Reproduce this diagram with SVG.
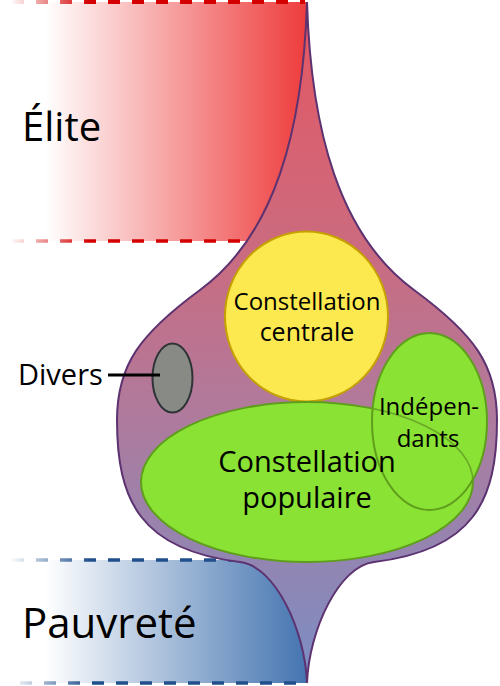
<svg xmlns="http://www.w3.org/2000/svg" xmlns:xlink="http://www.w3.org/1999/xlink" width="500" height="686" viewBox="0 0 500 686">
<style>
text{font-family:"Open Sans","Noto Sans","DejaVu Sans",sans-serif;fill:#000}
.mid{text-anchor:middle}
.gfill{fill:#8ae234}
.gstroke{fill:none;stroke:#5f9e1c;stroke-width:2}
</style>
<defs>
<linearGradient id="eliteBand" gradientUnits="userSpaceOnUse" x1="45" y1="0" x2="307" y2="0">
<stop offset="0" stop-color="#ffffff"/>
<stop offset="1" stop-color="#ee3c3c"/>
</linearGradient>
<linearGradient id="pauvBand" gradientUnits="userSpaceOnUse" x1="45" y1="0" x2="307" y2="0">
<stop offset="0" stop-color="#ffffff"/>
<stop offset="1" stop-color="#4474b0"/>
</linearGradient>
<linearGradient id="redDash" gradientUnits="userSpaceOnUse" x1="10" y1="0" x2="90" y2="0">
<stop offset="0" stop-color="#ffffff"/>
<stop offset="1" stop-color="#d40000"/>
</linearGradient>
<linearGradient id="blueDash" gradientUnits="userSpaceOnUse" x1="10" y1="0" x2="90" y2="0">
<stop offset="0" stop-color="#ffffff"/>
<stop offset="1" stop-color="#204f8c"/>
</linearGradient>
<linearGradient id="bodyGrad" gradientUnits="userSpaceOnUse" x1="0" y1="2" x2="0" y2="683">
<stop offset="0" stop-color="#e65660"/>
<stop offset="0.35" stop-color="#cc6a7e"/>
<stop offset="0.6" stop-color="#b07a9c"/>
<stop offset="1" stop-color="#7a8ec4"/>
</linearGradient>
<ellipse id="popShape" cx="307" cy="482" rx="166" ry="80"/>
<clipPath id="indClip"><ellipse cx="429.5" cy="421.5" rx="57.5" ry="88.5"/></clipPath>
</defs>

<g id="elite">
<rect x="0" y="2" width="307" height="239" fill="url(#eliteBand)"/>
<line x1="12" y1="2" x2="305" y2="2" stroke="url(#redDash)" stroke-width="4" stroke-dasharray="12 12"/>
<line x1="12" y1="241" x2="250" y2="241" stroke="url(#redDash)" stroke-width="3.5" stroke-dasharray="12 12"/>
<text x="22" y="141" font-size="40">Élite</text>
</g>

<g id="pauvrete">
<rect x="0" y="560" width="307" height="123" fill="url(#pauvBand)"/>
<line x1="12" y1="560" x2="242" y2="560" stroke="url(#blueDash)" stroke-width="3.5" stroke-dasharray="12 12"/>
<line x1="20" y1="683" x2="306" y2="683" stroke="url(#blueDash)" stroke-width="3.5" stroke-dasharray="12 12"/>
<text x="22" y="638" font-size="42">Pauvreté</text>
</g>

<g id="society">
<path d="M307,2 C303,130 275,235 200,290 C140,334 117,365 117,420 C117,500 140,550 240,562 C275,566 305,630 307,683 C309,630 339,566 374,562 C474,550 497,500 497,420 C497,365 474,334 414,290 C339,235 311,130 307,2 Z" fill="url(#bodyGrad)" stroke="#5c3270" stroke-width="2"/>
</g>

<g id="centrale">
<ellipse cx="306.5" cy="316.5" rx="81.5" ry="85" fill="#fce94f" stroke="#c4a000" stroke-width="2"/>
<text class="mid" x="307" y="310" font-size="24">Constellation</text>
<text class="mid" x="307" y="341" font-size="25">centrale</text>
</g>

<g id="divers">
<ellipse cx="172.5" cy="378" rx="20" ry="34.5" fill="#888a85" stroke="#2e3436" stroke-width="2"/>
<text x="18" y="385" font-size="29">Divers</text>
</g>

<g id="populaire">
<use xlink:href="#popShape" class="gfill"/>
<use xlink:href="#popShape" class="gstroke"/>
</g>

<g id="independants">
<ellipse cx="429.5" cy="421.5" rx="57.5" ry="88.5" class="gfill"/>
<use xlink:href="#popShape" clip-path="url(#indClip)" fill="none" stroke="#6aa828" stroke-width="1.6"/>
<ellipse cx="429.5" cy="421.5" rx="57.5" ry="88.5" class="gstroke"/>
<text class="mid" x="429" y="415" font-size="24">Indépen-</text>
<text class="mid" x="428" y="447" font-size="24">dants</text>
</g>

<g id="populaire-label">
<text class="mid" x="307" y="472" font-size="29">Constellation</text>
<text class="mid" x="307" y="508" font-size="29">populaire</text>
</g>

<g id="connectors">
<line x1="108" y1="375" x2="160" y2="375" stroke="#000" stroke-width="3"/>
</g>
</svg>
